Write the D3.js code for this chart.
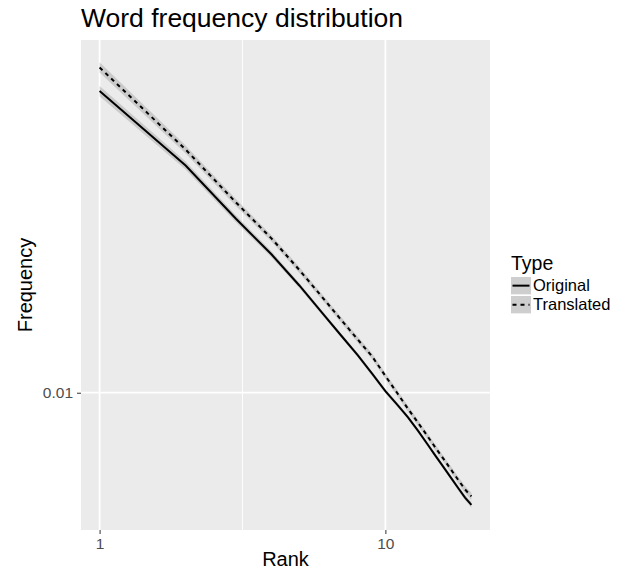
<!DOCTYPE html>
<html>
<head>
<meta charset="utf-8">
<script src="https://cdn.jsdelivr.net/npm/d3@7.9.0/dist/d3.min.js"></script>
<style>
  body { margin: 0; background: #fff; }
  text { font-family: "Liberation Sans", Arial, sans-serif; }
</style>
</head>
<body>
<svg id="chart" width="630" height="571"></svg>
<script>
// ranks and word frequencies
const ranks = [1, 2, 3, 4, 5, 6, 7, 8, 9, 10, 11, 12, 13, 14, 15, 16, 17, 18, 19, 20];
const original = [0.0664, 0.0416, 0.0298, 0.0238, 0.0196, 0.01653, 0.01432, 0.01266, 0.01125, 0.0101,
  0.00928, 0.00857, 0.00788, 0.00726, 0.00672, 0.00626, 0.00585, 0.00549, 0.00518, 0.00495];
const translated = [0.0770, 0.0460, 0.0330, 0.0263, 0.0216, 0.01825, 0.0158, 0.01397, 0.01254, 0.01111,
  0.00998, 0.00904, 0.00829, 0.00764, 0.00707, 0.00659, 0.00616, 0.00578, 0.00545, 0.00522];
// half width of the grey band, in log10 units
const originalSe = [0.014, 0.011, 0.0095, 0.008, 0.007, 0.006, 0.0055, 0.0055, 0.0055, 0.0055,
  0.0055, 0.0055, 0.0055, 0.0055, 0.0055, 0.0055, 0.006, 0.0065, 0.007, 0.008];
const translatedSe = [0.014, 0.011, 0.0095, 0.0085, 0.008, 0.008, 0.008, 0.008, 0.008, 0.008,
  0.008, 0.008, 0.008, 0.008, 0.008, 0.008, 0.0085, 0.009, 0.0095, 0.01];
const xTicks = [1, 10];
const xMinor = [Math.sqrt(10)];
const yTicks = [0.01];
const types = ['Original', 'Translated'];

const panel = { left: 81, right: 490, top: 40, bottom: 530 };
const svg = d3.select('#chart');

const series = [
  { name: types[0], vals: original, se: originalSe, dash: null },
  { name: types[1], vals: translated, se: translatedSe, dash: '4,4' }
];
series.forEach(s => {
  s.pts = ranks.map((r, i) => ({
    r: r,
    f: s.vals[i],
    lo: s.vals[i] / Math.pow(10, s.se[i]),
    hi: s.vals[i] * Math.pow(10, s.se[i])
  }));
});

// ggplot-like 5% expansion in log space
function expandLog(lo, hi) {
  let a = Math.log10(lo), b = Math.log10(hi), d = (b - a) * 0.05;
  return [Math.pow(10, a - d), Math.pow(10, b + d)];
}
let allPts = series.flatMap(s => s.pts);
let x = d3.scaleLog().domain(expandLog(d3.min(ranks), d3.max(ranks))).range([panel.left, panel.right]);
let y = d3.scaleLog().domain(expandLog(d3.min(allPts, d => d.lo), d3.max(allPts, d => d.hi)))
  .range([panel.bottom, panel.top]);

// panel
svg.append('rect')
  .attr('x', panel.left).attr('y', panel.top)
  .attr('width', panel.right - panel.left).attr('height', panel.bottom - panel.top)
  .attr('fill', '#EBEBEB');

// grid
svg.selectAll('.xminor').data(xMinor).enter().append('line')
  .attr('x1', d => x(d)).attr('x2', d => x(d))
  .attr('y1', panel.top).attr('y2', panel.bottom)
  .attr('stroke', '#fff').attr('stroke-width', 0.9);
svg.selectAll('.xmajor').data(xTicks).enter().append('line')
  .attr('x1', d => x(d)).attr('x2', d => x(d))
  .attr('y1', panel.top).attr('y2', panel.bottom)
  .attr('stroke', '#fff').attr('stroke-width', 1.8);
svg.selectAll('.ymajor').data(yTicks).enter().append('line')
  .attr('y1', d => y(d)).attr('y2', d => y(d))
  .attr('x1', panel.left).attr('x2', panel.right)
  .attr('stroke', '#fff').attr('stroke-width', 1.8);

// ribbons then lines
let area = d3.area().x(d => x(d.r)).y0(d => y(d.lo)).y1(d => y(d.hi));
let line = d3.line().x(d => x(d.r)).y(d => y(d.f));

series.forEach(s => {
  svg.append('path').attr('d', area(s.pts))
    .attr('fill', '#999999').attr('fill-opacity', 0.4);
});
series.forEach(s => {
  svg.append('path').attr('d', line(s.pts))
    .attr('fill', 'none').attr('stroke', '#000').attr('stroke-width', 2)
    .attr('stroke-dasharray', s.dash);
});

// axes
let xAxis = d3.axisBottom(x).tickValues(xTicks).tickFormat(d3.format('d')).tickSize(4).tickPadding(4);
let gx = svg.append('g').attr('transform', `translate(0,${panel.bottom})`).call(xAxis);
let yAxis = d3.axisLeft(y).tickValues(yTicks).tickFormat(d => d).tickSize(4).tickPadding(4);
let gy = svg.append('g').attr('transform', `translate(${panel.left},0)`).call(yAxis);
[gx, gy].forEach(g => {
  g.select('.domain').remove();
  g.selectAll('.tick line').attr('stroke', '#333').attr('stroke-width', 1);
  g.selectAll('.tick text').attr('fill', '#4D4D4D').style('font-size', '15.5px')
    .style('font-family', '"Liberation Sans", Arial, sans-serif');
});

// titles
svg.append('text').attr('x', panel.left).attr('y', 27)
  .style('font-size', '26.5px').attr('fill', '#000').text('Word frequency distribution');
svg.append('text').attr('x', (panel.left + panel.right) / 2).attr('y', 566)
  .attr('text-anchor', 'middle').style('font-size', '20px').text('Rank');
svg.append('text')
  .attr('transform', `translate(32,${(panel.top + panel.bottom) / 2}) rotate(-90)`)
  .attr('text-anchor', 'middle').style('font-size', '20px').text('Frequency');

// legend
let legend = svg.append('g').attr('transform', 'translate(511,0)');
legend.append('text').attr('x', 0).attr('y', 270).style('font-size', '19.5px').text('Type');
series.forEach((s, i) => {
  let ky = 277 + i * 19;
  legend.append('rect').attr('x', 0).attr('y', ky).attr('width', 20).attr('height', 17.3)
    .attr('fill', '#F2F2F2');
  legend.append('rect').attr('x', 0).attr('y', ky).attr('width', 20).attr('height', 17.3)
    .attr('fill', '#999999').attr('fill-opacity', 0.4);
  legend.append('line').attr('x1', 1.5).attr('x2', 18.5).attr('y1', ky + 8.65).attr('y2', ky + 8.65)
    .attr('stroke', '#000').attr('stroke-width', 2).attr('stroke-dasharray', s.dash);
  legend.append('text').attr('x', 22).attr('y', ky + 14)
    .style('font-size', '16.5px').text(s.name);
});
</script>
</body>
</html>
